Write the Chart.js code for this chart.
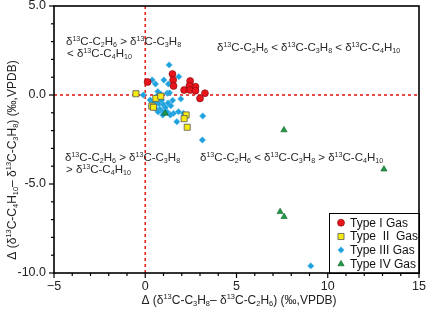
<!DOCTYPE html>
<html><head><meta charset="utf-8">
<script src="https://cdn.jsdelivr.net/npm/chart.js@4/dist/chart.umd.min.js"></script>
<style>html,body{margin:0;padding:0;background:#fff}canvas{display:block}</style>
</head><body>
<canvas id="c" width="429" height="313"></canvas>
<script>
// ---- data (x = Δ(δ13C-C3H8 − δ13C-C2H6), y = Δ(δ13C-C4H10 − δ13C-C3H8)) ----
const typeI_x = [0.13, 1.49, 1.53, 1.55, 2.13, 2.46, 2.42, 2.46, 2.75, 2.75, 3.00, 3.27];
const typeI_y = [0.73, 1.18, 0.84, 0.51, 0.28, 0.79, 0.52, 0.28, 0.47, 0.24, -0.19, 0.10];
const typeII_x = [-0.51, 0.58, 0.85, 0.36, 0.45, 2.24, 2.13, 2.30];
const typeII_y = [0.07, -0.19, -0.07, -0.62, -0.69, -1.12, -1.33, -1.81];
const typeIII_x = [-0.11, 0.38, 0.56, 1.02, 1.31, 1.84, 1.27, 0.69, 1.20, 1.33, 0.27, 0.45, 0.60, 0.75, 0.90, 1.00, 0.55, 0.80, 1.10, 1.25, 1.40, 0.95, 1.20, 0.70, 1.50, 1.55, 1.82, 1.38, 1.73, 2.09, 1.95, 0.35, 0.60, 0.85, 0.96, 3.15, 3.13, 9.07];
const typeIII_y = [0.00, 0.84, 0.62, 0.84, 1.69, 1.03, 0.62, 0.19, 0.10, 0.12, -0.28, -0.45, -0.35, -0.50, -0.30, -0.55, -0.75, -0.80, -0.70, -0.45, -0.60, -0.95, -0.95, -0.95, -0.30, -1.03, -0.94, -1.12, -1.50, -1.03, -0.22, -0.60, -0.10, 0.05, -1.12, -1.18, -2.53, -9.60];
const typeIV_x = [1.09, 7.60, 13.08, 7.39, 7.61];
const typeIV_y = [-1.03, -1.97, -4.17, -6.56, -6.84];
const seriesNames = ["Type I Gas", "Type  II  Gas", "Type III Gas", "Type IV Gas"];
const xTickValues = [-5, 0, 5, 10, 15];
const xTickLabels = ["\u22125", "0", "5", "10", "15"];
const yTickValues = [-10, -5, 0, 5];
const yTickLabels = ["-10.0", "-5.0", "0.0", "5.0"];

const FONT = '"Liberation Sans", Arial, sans-serif';
function pts(xs, ys){ return xs.map((x,i)=>({x:x, y:ys[i]})); }

const styles = [
  {pointStyle:'circle', radius:3.5, bg:'#e8141c', bc:'#7a0a0a', bw:0.6, order:0},
  {pointStyle:'rect', radius:4.3, bg:'#f6ea12', bc:'#555555', bw:0.8, order:1},
  {pointStyle:'rectRot', radius:3.2, bg:'#1ea2de', bc:'#5db9e6', bw:0.6, order:3},
  {pointStyle:'triangle', radius:3.6, bg:'#1f9a45', bc:'#0b5a22', bw:0.6, order:2}
];
const allData = [pts(typeI_x,typeI_y), pts(typeII_x,typeII_y), pts(typeIII_x,typeIII_y), pts(typeIV_x,typeIV_y)];

function drawRich(ctx, text, x, y, size, align){
  const toks = text.match(/(\^\{[^}]*\}|_\{[^}]*\}|[^^_]+)/g);
  const small = size*0.62;
  const parts = toks.map(t=>{
    if (t[0]==='^') return {s:t.slice(2,-1), f:small, dy:-size*0.38};
    if (t[0]==='_') return {s:t.slice(2,-1), f:small, dy:size*0.2};
    return {s:t, f:size, dy:0};
  });
  let w = 0;
  parts.forEach(p=>{ ctx.font = p.f+'px '+FONT; p.w = ctx.measureText(p.s).width; w += p.w; });
  let cx = align==='center' ? x - w/2 : x;
  ctx.textAlign = 'left'; ctx.textBaseline = 'alphabetic';
  parts.forEach(p=>{ ctx.font = p.f+'px '+FONT; ctx.fillText(p.s, cx, y+p.dy); cx += p.w; });
}

const deco = {
  id:'deco',
  beforeDatasetsDraw(chart){
    const ctx = chart.ctx, xs = chart.scales.x, ys = chart.scales.y, a = chart.chartArea;
    ctx.save();
    ctx.strokeStyle = '#e3201b'; ctx.lineWidth = 1.6; ctx.setLineDash([3,3]);
    const x0 = xs.getPixelForValue(0), y0 = ys.getPixelForValue(0);
    ctx.beginPath(); ctx.moveTo(x0, a.top); ctx.lineTo(x0, a.bottom); ctx.stroke();
    ctx.beginPath(); ctx.moveTo(a.left, y0); ctx.lineTo(a.right, y0); ctx.stroke();
    ctx.setLineDash([]);
    ctx.fillStyle = '#2a2a2a';
    const s = 11.5;
    drawRich(ctx, 'δ^{13}C-C_{2}H_{6} > δ^{13}C-C_{3}H_{8}', 66, 45, s, 'left');
    drawRich(ctx, '< δ^{13}C-C_{4}H_{10}', 67, 57, s, 'left');
    drawRich(ctx, 'δ^{13}C-C_{2}H_{6} < δ^{13}C-C_{3}H_{8} < δ^{13}C-C_{4}H_{10}', 217, 51, s, 'left');
    drawRich(ctx, 'δ^{13}C-C_{2}H_{6} > δ^{13}C-C_{3}H_{8}', 65, 161, s, 'left');
    drawRich(ctx, '> δ^{13}C-C_{4}H_{10}', 66, 173, s, 'left');
    drawRich(ctx, 'δ^{13}C-C_{2}H_{6} < δ^{13}C-C_{3}H_{8} > δ^{13}C-C_{4}H_{10}', 200, 161, s, 'left');
    ctx.restore();
  },
  afterDraw(chart){
    const ctx = chart.ctx, xs = chart.scales.x, ys = chart.scales.y, a = chart.chartArea;
    ctx.save();
    // legend
    const lx = 329, ly = 213, lw = a.right - lx, lh = a.bottom - ly;
    ctx.fillStyle = '#fff'; ctx.fillRect(lx, ly, lw, lh);
    ctx.strokeStyle = '#000'; ctx.lineWidth = 1; ctx.strokeRect(lx+0.5, ly+0.5, lw, lh);
    const rows = [222.7, 236.5, 250, 264];
    seriesNames.forEach((n,i)=>{
      const st = styles[i];
      ctx.fillStyle = st.bg; ctx.strokeStyle = st.bc; ctx.lineWidth = st.bw;
      Chart.helpers.drawPoint(ctx, {pointStyle:st.pointStyle, radius:st.radius, borderWidth:st.bw, rotation:0}, 341, rows[i]);
      ctx.fillStyle = '#111'; ctx.font = '12px '+FONT; ctx.textAlign='left'; ctx.textBaseline='middle';
      ctx.fillText(n, 350, rows[i]+0.5);
    });
    // frame
    ctx.strokeStyle = '#000'; ctx.lineWidth = 1.6;
    ctx.strokeRect(a.left, a.top, a.right - a.left, a.bottom - a.top);
    // ticks
    ctx.lineWidth = 1.2;
    for (let v=-5; v<=15; v++){
      const p = xs.getPixelForValue(v), L = (v%5===0)?5:3;
      ctx.beginPath(); ctx.moveTo(p, a.bottom); ctx.lineTo(p, a.bottom+L); ctx.stroke();
    }
    for (let v=-10; v<=5; v++){
      const p = ys.getPixelForValue(v), L = (v%5===0)?5:3;
      ctx.beginPath(); ctx.moveTo(a.left, p); ctx.lineTo(a.left-L, p); ctx.stroke();
    }
    // tick labels
    ctx.fillStyle = '#222'; ctx.font = '12.5px '+FONT;
    ctx.textAlign = 'center'; ctx.textBaseline = 'middle';
    xTickValues.forEach((v,i)=> ctx.fillText(xTickLabels[i], xs.getPixelForValue(v), a.bottom + 14));
    ctx.textAlign = 'right';
    yTickValues.forEach((v,i)=> ctx.fillText(yTickLabels[i], a.left - 8, ys.getPixelForValue(v)));
    // axis titles
    drawRich(ctx, 'Δ (δ^{13}C-C_{3}H_{8}– δ^{13}C-C_{2}H_{6}) (‰,VPDB)', 239, 304, 12, 'center');
    ctx.translate(16, 160); ctx.rotate(-Math.PI/2);
    drawRich(ctx, 'Δ (δ^{13}C-C_{4}H_{10}– δ^{13}C-C_{3}H_{8}) (‰,VPDB)', 0, 0, 12, 'center');
    ctx.restore();
  }
};

new Chart(document.getElementById('c'), {
  type:'scatter',
  data:{ datasets: allData.map((d,i)=>({
    label: seriesNames[i], data:d, order: styles[i].order,
    pointStyle: styles[i].pointStyle, pointRadius: styles[i].radius,
    backgroundColor: styles[i].bg, borderColor: styles[i].bc, borderWidth: styles[i].bw
  })) },
  options:{
    responsive:false, animation:false, devicePixelRatio:1,
    layout:{ padding:{ top:6, right:10, left:0, bottom:0 } },
    plugins:{ legend:{display:false}, tooltip:{enabled:false} },
    scales:{
      x:{ type:'linear', min:-5, max:15,
        grid:{display:false, drawTicks:false}, border:{display:false},
        ticks:{ display:false, stepSize:1 },
        afterFit(s){ s.height = 40; } },
      y:{ type:'linear', min:-10, max:5,
        grid:{display:false, drawTicks:false}, border:{display:false},
        ticks:{ display:false, stepSize:1 },
        afterFit(s){ s.width = 54; } }
    }
  },
  plugins:[deco]
});
</script>
</body></html>
